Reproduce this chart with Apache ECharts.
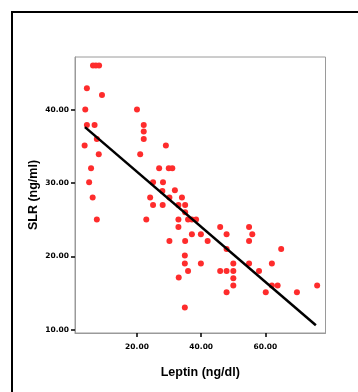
<!DOCTYPE html>
<html>
<head>
<meta charset="utf-8">
<script src="https://cdn.jsdelivr.net/npm/echarts@6/dist/echarts.min.js"></script>
<style>
  html, body { margin: 0; padding: 0; background: #fff; }
  #scatter { width: 358px; height: 392px; }
</style>
</head>
<body>
<div id="scatter"></div>
<script>
// data
var leptin = [6.3, 7.2, 8.2, 4.4, 9.1, 3.9, 20.0, 4.4, 6.8, 22.1, 22.1, 3.7, 7.5, 22.1, 29.0, 8.1, 21.0, 5.7, 26.9, 29.9, 31.0, 5.1, 25.0, 28.1, 27.9, 31.8,
              6.2, 7.5, 24.1, 25.0, 28.0, 30.1, 34.0, 32.9, 35.0, 35.0, 22.9, 32.9, 35.9, 37.1, 38.4, 32.9, 37.1, 39.9, 30.1, 35.0, 34.9, 34.9, 39.9, 35.9, 33.0, 34.9,
              45.9, 54.9, 47.9, 55.9, 42.0, 54.9, 47.9, 64.9, 50.0, 54.9, 62.0, 45.9, 47.9, 50.0, 58.0, 50.0, 50.0, 62.0, 63.8, 76.1, 47.9, 60.1, 69.8];
var slr = [46.0, 46.0, 46.0, 42.9, 42.0, 40.0, 40.0, 37.9, 37.9, 37.9, 37.0, 35.1, 36.0, 36.0, 35.1, 33.9, 33.9, 32.0, 32.0, 32.0, 32.0, 30.1, 30.1, 30.1, 28.9, 29.0,
           28.0, 25.0, 28.0, 27.0, 27.0, 28.0, 28.0, 27.0, 27.0, 26.0, 25.0, 25.0, 25.0, 25.0, 25.0, 24.0, 23.0, 23.0, 22.1, 22.1, 20.1, 19.0, 19.0, 18.0, 17.1, 13.0,
           24.0, 24.0, 23.0, 23.0, 22.1, 22.1, 21.0, 21.0, 19.0, 19.0, 19.0, 18.0, 18.0, 18.0, 18.0, 17.0, 16.0, 16.0, 16.0, 16.0, 15.1, 15.1, 15.1];

// fit line (as drawn)
var fitSlope = -0.3755;
var fitIntercept = 39.03;
var fitRange = [3.8, 75.7];

var xTicks = [20, 40, 60];
var yTicks = [10, 20, 30, 40];

var points = leptin.map(function (x, i) { return [x, slr[i]]; });
var fitLine = fitRange.map(function (x) { return [x, fitIntercept + fitSlope * x]; });

var chart = echarts.init(document.getElementById('scatter'));

var tickFont = { fontFamily: 'DejaVu Sans', fontWeight: 'bold', fontSize: 7.5, color: '#000' };
var nameFont = { fontFamily: 'Liberation Sans', fontWeight: 'bold', fontSize: 12.5, color: '#000' };

var option = {
    animation: false,
    backgroundColor: '#fff',
    graphic: [{
        type: 'rect',
        shape: { x: 12, y: 12, width: 400, height: 400 },
        style: { fill: 'none', stroke: '#000', lineWidth: 2 },
        silent: true
    }],
    grid: {
        left: 75, top: 57, right: 32.5, bottom: 59,
        show: true, borderColor: '#9a9a9a', borderWidth: 1
    },
    xAxis: {
        type: 'value',
        min: 0.7, max: 78.7,
        name: 'Leptin (ng/dl)',
        nameLocation: 'middle',
        nameGap: 33,
        nameMoveOverlap: false,
        nameTextStyle: nameFont,
        axisLine: { show: true, lineStyle: { color: '#9a9a9a', width: 1 } },
        axisTick: { show: true, customValues: xTicks, length: 4, lineStyle: { color: '#000', width: 1.5 } },
        axisLabel: Object.assign({ customValues: xTicks, margin: 10, formatter: function (v) { return v.toFixed(2); } }, tickFont),
        splitLine: { show: false }
    },
    yAxis: {
        type: 'value',
        min: 9.54, max: 47.17,
        name: 'SLR (ng/ml)',
        nameLocation: 'middle',
        nameGap: 35,
        nameMoveOverlap: false,
        nameTextStyle: nameFont,
        axisLine: { show: true, lineStyle: { color: '#9a9a9a', width: 1 } },
        axisTick: { show: true, customValues: yTicks, length: 4, lineStyle: { color: '#000', width: 1.5 } },
        axisLabel: Object.assign({ customValues: yTicks, margin: 6, formatter: function (v) { return v.toFixed(2); } }, tickFont),
        splitLine: { show: false }
    },
    series: [
        {
            name: 'SLR',
            type: 'scatter',
            symbolSize: 6,
            itemStyle: { color: '#fe2c2c', opacity: 1 },
            data: points
        },
        {
            name: 'fit',
            type: 'line',
            symbol: 'none',
            lineStyle: { color: '#000', width: 2.5 },
            data: fitLine
        }
    ]
};
chart.setOption(option);
</script>
</body>
</html>
